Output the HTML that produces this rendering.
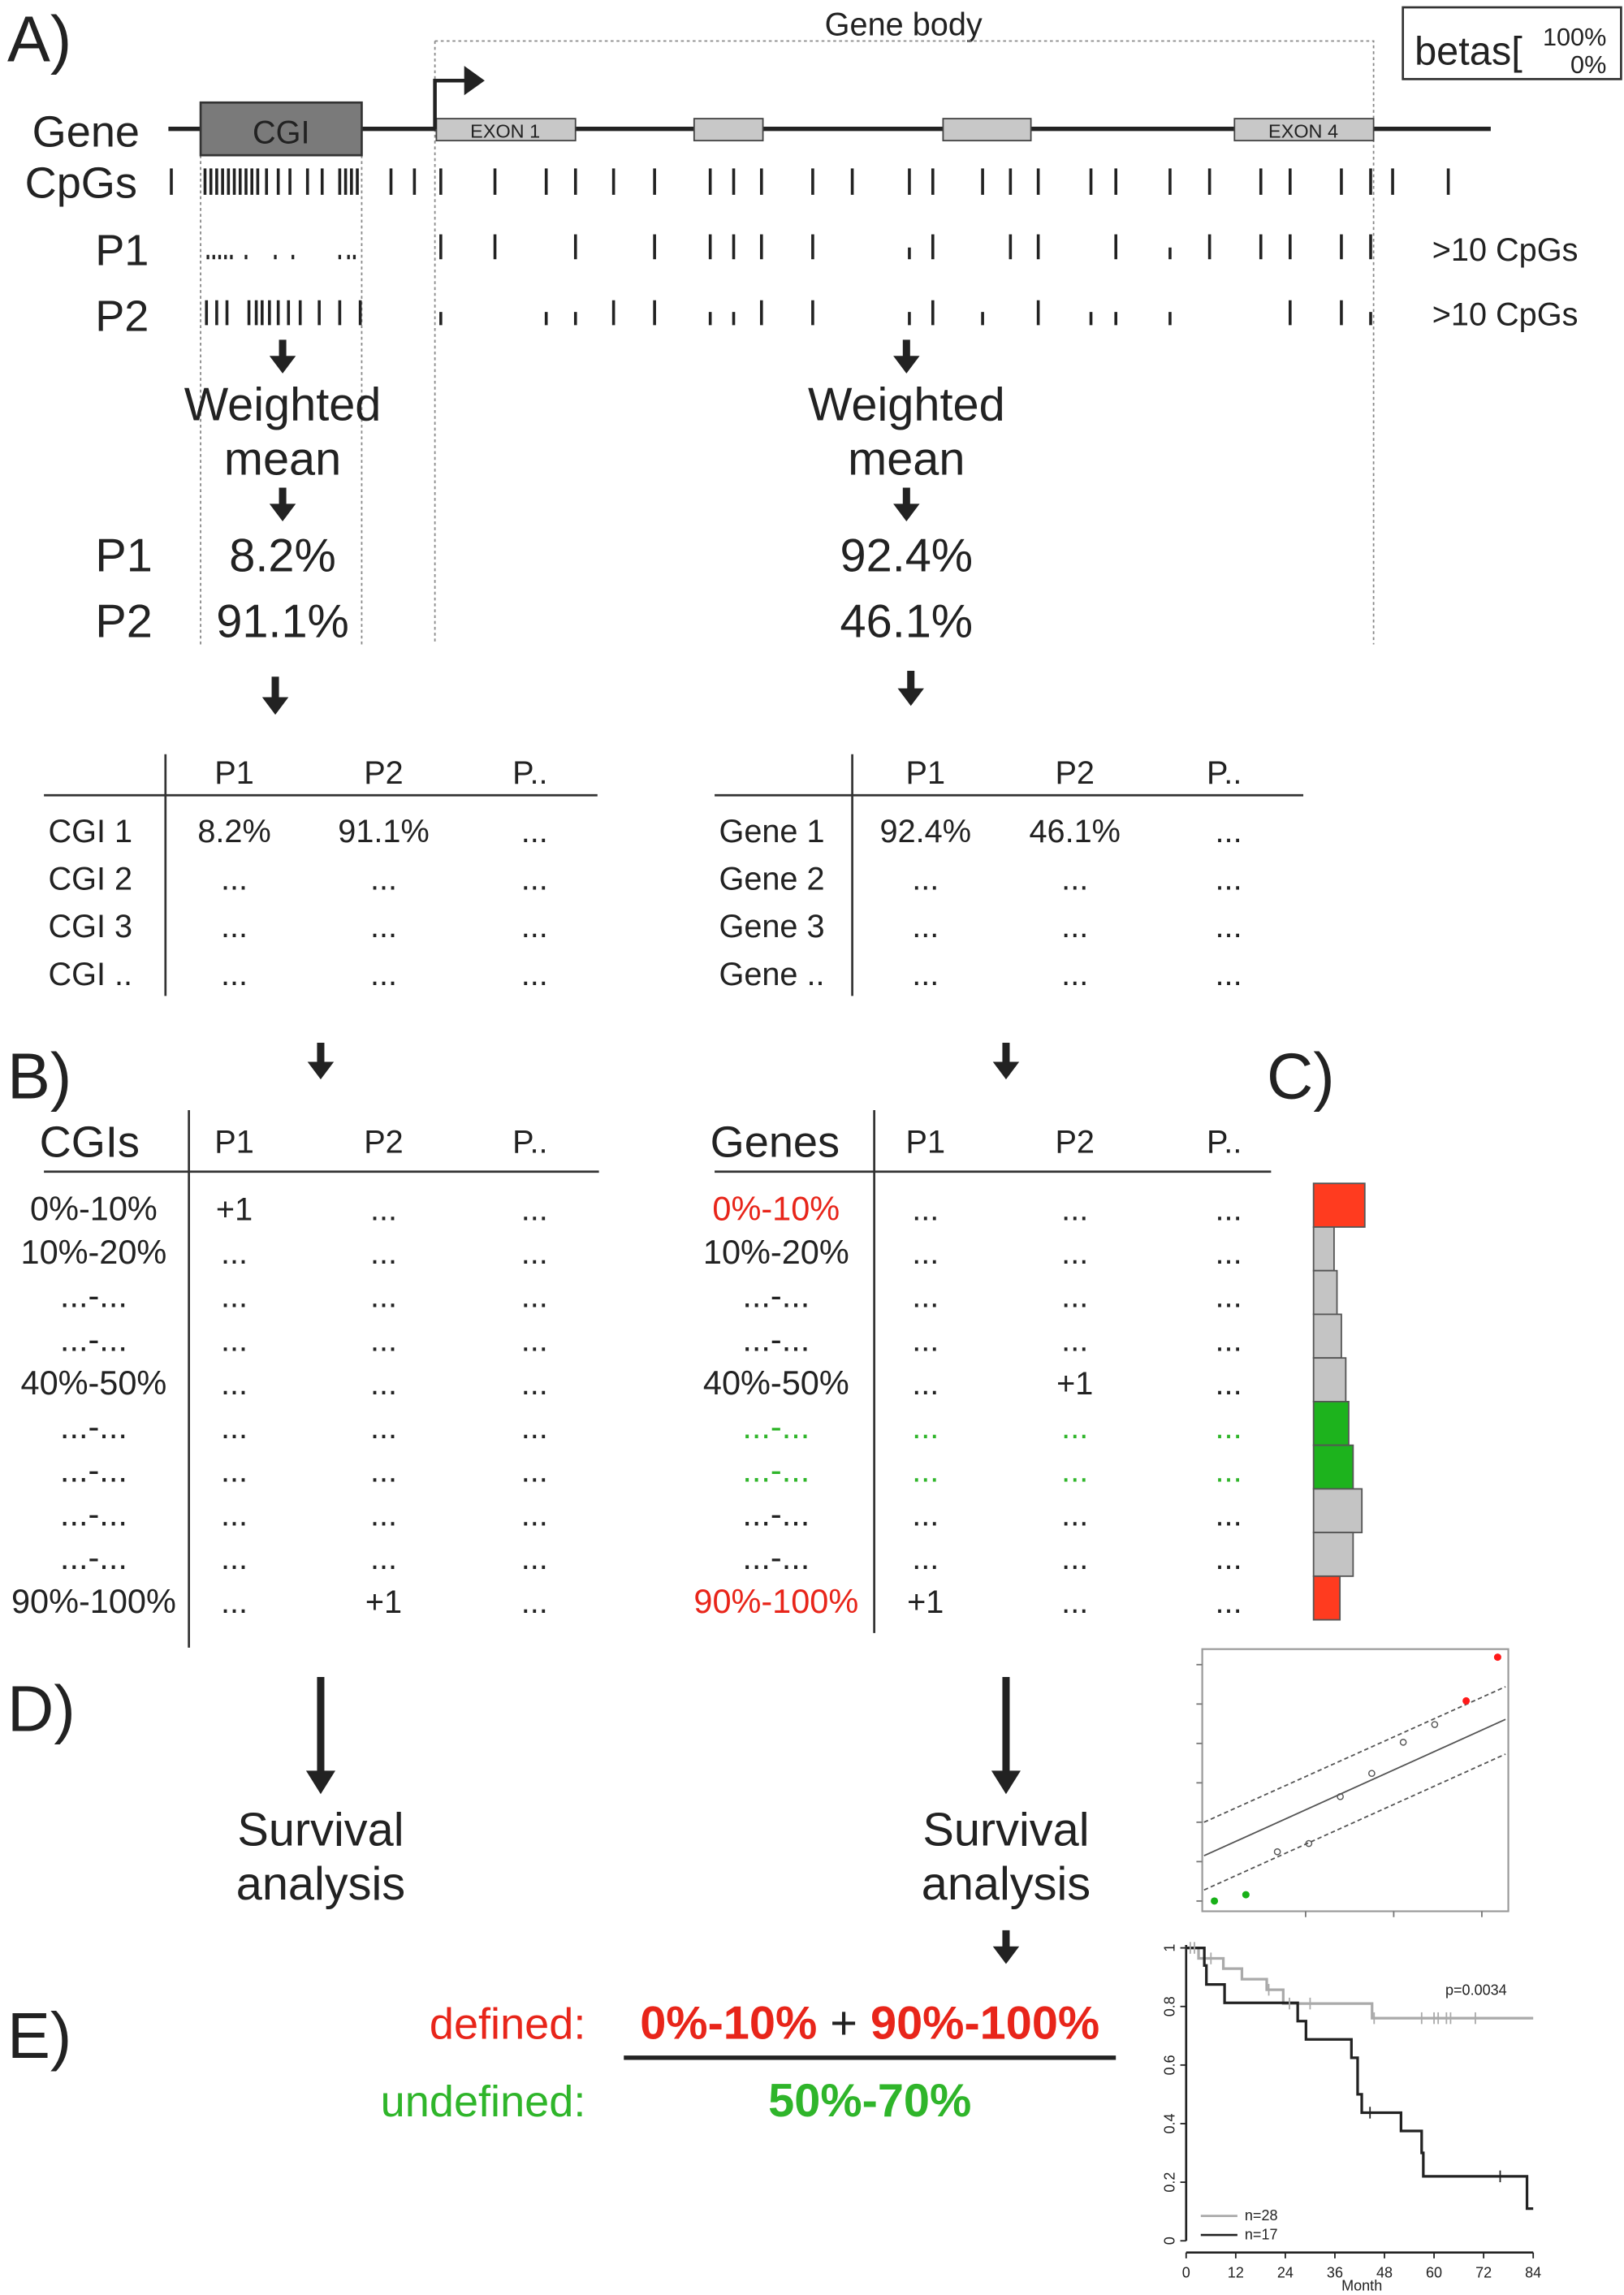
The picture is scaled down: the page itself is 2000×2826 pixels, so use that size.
<!DOCTYPE html>
<html><head><meta charset="utf-8"><style>
html,body{margin:0;padding:0;background:#fff}
svg{display:block}
text{font-family:"Liberation Sans",sans-serif;fill:#222}
</style></head><body>
<svg id="fig" width="2000" height="2826" viewBox="0 0 1109 1567" xmlns="http://www.w3.org/2000/svg">
<g id="static">
<text x="5" y="42" font-size="44">A)</text>
<text x="617" y="24" font-size="22" text-anchor="middle">Gene body</text>
<path d="M297 28 H938 V440 M297 28 V440 M137 106 V440 M247 106 V440" stroke="#888" stroke-width="1" stroke-dasharray="2,2" fill="none"/>
<rect x="958" y="5" width="149" height="49" fill="#fff" stroke="#333" stroke-width="1.5"/>
<text x="966" y="44" font-size="27">betas[</text>
<text x="1097" y="31" font-size="17" text-anchor="end">100%</text>
<text x="1097" y="50" font-size="17" text-anchor="end">0%</text>
<text x="22" y="100" font-size="30">Gene</text>
<text x="17" y="135" font-size="30">CpGs</text>
<text x="65" y="181" font-size="30">P1</text>
<text x="65" y="226" font-size="30">P2</text>
<line x1="115" y1="88" x2="1018" y2="88" stroke="#222" stroke-width="3"/>
<rect x="137" y="70" width="110" height="36" fill="#7a7a7a" stroke="#333" stroke-width="1.5"/>
<text x="192" y="98" font-size="22" text-anchor="middle">CGI</text>
<rect x="298" y="81" width="95" height="15" fill="#c8c8c8" stroke="#444"/>
<text x="345" y="94" font-size="13" text-anchor="middle">EXON 1</text>
<rect x="474" y="81" width="47" height="15" fill="#c8c8c8" stroke="#444"/>
<rect x="644" y="81" width="60" height="15" fill="#c8c8c8" stroke="#444"/>
<rect x="843" y="81" width="95" height="15" fill="#c8c8c8" stroke="#444"/>
<text x="890" y="94" font-size="13" text-anchor="middle">EXON 4</text>
<path d="M297 88 V55 H318" stroke="#222" stroke-width="2.5" fill="none"/>
<path d="M317 45 L331 55 L317 65 Z" fill="#222"/>
<text x="978" y="178" font-size="22">&gt;10 CpGs</text>
<text x="978" y="222" font-size="22">&gt;10 CpGs</text>
<g font-size="32" text-anchor="middle">
<text x="193" y="287">Weighted</text><text x="193" y="324">mean</text>
<text x="619" y="287">Weighted</text><text x="619" y="324">mean</text>
<text x="193" y="390">8.2%</text>
<text x="193" y="435">91.1%</text>
<text x="619" y="390">92.4%</text>
<text x="619" y="435">46.1%</text>
<text x="219" y="1260">Survival</text><text x="219" y="1297">analysis</text>
<text x="687" y="1260">Survival</text><text x="687" y="1297">analysis</text>
</g>
<text x="65" y="390" font-size="32">P1</text>
<text x="65" y="435" font-size="32">P2</text>
<text x="5" y="750" font-size="44">B)</text>
<text x="865" y="750" font-size="44">C)</text>
<text x="5" y="1182" font-size="44">D)</text>
<text x="5" y="1405" font-size="44">E)</text>
<text x="400" y="1392" font-size="30" text-anchor="end" fill="#e8251a" style="fill:#e8251a">defined:</text>
<text x="594" y="1392" font-size="32" font-weight="bold" text-anchor="middle"><tspan style="fill:#e8251a">0%-10%</tspan><tspan font-weight="normal"> + </tspan><tspan style="fill:#e8251a">90%-100%</tspan></text>
<line x1="426" y1="1405" x2="762" y2="1405" stroke="#222" stroke-width="3"/>
<text x="400" y="1445" font-size="30" text-anchor="end" style="fill:#2fb52a">undefined:</text>
<text x="594" y="1445" font-size="32" font-weight="bold" text-anchor="middle" style="fill:#2fb52a">50%-70%</text>
</g>
<g id="dyn"></g>
</svg>
<script>
// CpG positions (display units along gene)
const cpgPos=[117,140,144,148,152,156,160,164,168,172,176,182,190,198,210,220,232,236,240,244,267,283,301,338,373,393,419,447,485,501,520,555,582,621,637,671,690,709,745,762,799,826,861,881,916,936,951,989];
const p1Full=[301,338,393,447,485,501,520,555,637,690,709,762,826,861,881,916,936];
const p1Short=[621,799];
const p1Dots=[142,146,150,154,158,168,188,200,232,238,242];
const p2Full=[141,148,155,170,175,179,184,190,197,205,218,232,246,419,447,520,555,637,709,881,916];
const p2Short=[301,373,393,485,501,621,671,745,762,799,936];
// histogram (panel C) bar lengths
const histVals=[35,14,16,19,22,24,27,33,27,18];
const histCols=['red','gray','gray','gray','gray','green','green','gray','gray','red'];
// scatter
const scX=[1,2,3,4,5,6,7,8,9,10];
const scY=[0.13,0.29,1.38,1.59,2.78,3.37,4.16,4.61,5.21,6.32];
const scCol=['green','green','open','open','open','open','open','open','red','red'];
const fitX=[0.67,10.25];
const fitMid=[1.28,4.74];
const fitUp=[2.13,5.57];
const fitLo=[0.41,3.86];
// Kaplan-Meier
const kmBlackT=[0,4.4,4.9,9.3,27,29,40,41.5,42.5,52,57,57.4,82.5,84];
const kmBlackS=[1,0.94,0.875,0.8125,0.75,0.6875,0.625,0.5,0.4375,0.375,0.3,0.22,0.11,0.11];
const kmBlackCens=[44.5,76];
const kmGrayT=[0,3,9,13.5,19.5,23.5,45,84];
const kmGrayS=[1,0.964,0.929,0.893,0.857,0.81,0.76,0.76];
const kmGrayCens=[1,2,6,20,25,30,45.5,57,60,61,63,64,70];
const kmTicks=[0,12,24,36,48,60,72,84];
const kmYTicks=[0,0.2,0.4,0.6,0.8,1];
const rowLabelsL=['0%-10%','10%-20%','...-...','...-...','40%-50%','...-...','...-...','...-...','...-...','90%-100%'];

const NS='http://www.w3.org/2000/svg';
const dyn=document.getElementById('dyn');
function mk(tag,attrs,parent){const e=document.createElementNS(NS,tag);for(const k in attrs)e.setAttribute(k,attrs[k]);(parent||dyn).appendChild(e);return e;}
function txt(x,y,s,size,fill,anchor){const e=mk('text',{x:x,y:y,'font-size':size,'text-anchor':anchor||'middle'});e.style.fill=fill||'#222';e.textContent=s;return e;}
function ticks(arr,y1,y2,w){arr.forEach(x=>{const l=mk('line',{x1:x,x2:x,y1:y1,y2:y2,stroke:'#222','stroke-width':w||2});

});}
ticks(cpgPos,115,133);ticks(p1Full,160,177);ticks(p1Short,169,177);ticks(p1Dots,174,177,1.8);
ticks(p2Full,205,222);ticks(p2Short,213,222);

function arrow(x,y1,y2,big){const hw=big?10:9,hl=big?16:12;
const a=mk('path',{d:`M${x-(big?2.5:2.5)} ${y1} H${x+2.5} V${y2-hl} H${x+hw} L${x} ${y2} L${x-hw} ${y2-hl} H${x-2.5} Z`,fill:'#222'});

}
[[193,232,255],[619,232,255],[193,333,356],[619,333,356],[188,462,488],[622,458,482],[219,712,737],[687,712,737],[687,1318,1341]].forEach(a=>arrow(a[0],a[1],a[2]));
arrow(219,1145,1225,true);arrow(687,1145,1225,true);

// tables A
function tableA(vx,hx1,hx2,cols,labels,first,lx){
 const v=mk('line',{x1:vx,x2:vx,y1:515,y2:680,stroke:'#333','stroke-width':1.5});
 
 
 mk('line',{x1:hx1,x2:hx2,y1:543,y2:543,stroke:'#333','stroke-width':1.5});
 ['P1','P2','P..'].forEach((h,i)=>txt(cols[i],535,h,22));
 labels.forEach((l,r)=>{const y=575+r*32.5;txt(lx,y,l,22,'#222','start');
  const vals=r==0?first:['...','...','...'];vals.forEach((s,i)=>txt(cols[i]+(i==2?3:0),y,s,22));});
}
tableA(113,30,408,[160,262,362],['CGI 1','CGI 2','CGI 3','CGI ..'],['8.2%','91.1%','...'],33);
tableA(582,488,890,[632,734,836],['Gene 1','Gene 2','Gene 3','Gene ..'],['92.4%','46.1%','...'],491);

// tables B
const rowY=i=>833+i*29.8;
function tableB(vx,vy2,hx1,hx2,cols,title,tx,lx,colorFn,plus){
 const v=mk('line',{x1:vx,x2:vx,y1:758,y2:vy2,stroke:'#333','stroke-width':1.5});
 
 
 mk('line',{x1:hx1,x2:hx2,y1:800,y2:800,stroke:'#333','stroke-width':1.5});
 txt(tx,790,title,30,'#222','start');
 ['P1','P2','P..'].forEach((h,i)=>txt(cols[i],787,h,22));
 rowLabelsL.forEach((l,r)=>{const y=rowY(r);const c=colorFn(r);
  const t=txt(lx,y,l,23,c.label);
  
  
  cols.forEach((cx,i)=>{const p=plus.find(q=>q[0]==r&&q[1]==i);txt(cx+(i==2?3:0),y,p?'+1':'...',22,c.cell);});});
}
tableB(129,1125,30,409,[160,262,362],'CGIs',27,64,()=>({label:'#222',cell:'#222'}),[[0,0],[9,1]]);
tableB(597,1115,488,868,[632,734,836],'Genes',485,530,r=>r==0||r==9?{label:'#e8251a',cell:'#222'}:(r==5||r==6?{label:'#2fb52a',cell:'#2fb52a'}:{label:'#222',cell:'#222'}),[[4,1],[9,0]]);

// histogram C
const colMap={red:'#ff3b1f',gray:'#c4c4c4',green:'#1db31d'};
histVals.forEach((v,i)=>{const r=mk('rect',{x:897,y:808+i*29.8,width:v,height:29.8,fill:colMap[histCols[i]],stroke:'#555','stroke-width':1});

});

// scatter
const sc={x0:821,x1:1030,y0:1126,y1:1305};
const sxs=x=>790.5+ (x-1)*21.5+31.4-0.9+0.0; // axis function
function SX(x){return 829.3+(x-1)*21.49;}
function SY(y){return 1301.5-y*26.9;}
const frame=mk('rect',{x:sc.x0,y:sc.y0,width:sc.x1-sc.x0,height:sc.y1-sc.y0,fill:'#fff',stroke:'#999','stroke-width':1.2});


for(let k=0;k<=6;k++){mk('line',{x1:sc.x0-4,x2:sc.x0,y1:SY(k)-3.5,y2:SY(k)-3.5,stroke:'#777'});}
[3.2,6,8.8].forEach(v=>mk('line',{x1:SX(v)+15,x2:SX(v)+15,y1:sc.y1,y2:sc.y1+4,stroke:'#777'}));
[[fitMid,''],[fitUp,'3,2'],[fitLo,'3,2']].forEach(([f,d])=>{const l=mk('line',{x1:SX(fitX[0]),y1:SY(f[0]),x2:SX(fitX[1]),y2:SY(f[1]),stroke:'#555','stroke-width':1,'stroke-dasharray':d});

});
scX.forEach((x,i)=>{const c=scCol[i];const p=mk('circle',{cx:SX(x),cy:SY(scY[i]),r:c=='open'?2:2.5,fill:c=='open'?'none':(c=='red'?'#ff1a1a':'#18b018'),stroke:c=='open'?'#555':'none','stroke-width':0.8});

});

// KM
function KX(t){return 810+t*(237/84);}
function KY(s){return 1530-s*200;}
const ax=mk('path',{d:`M${KX(0)} ${KY(1)-2} V${KY(0)} M${KX(0)} ${KY(0)+8} H${KX(84)}`,stroke:'#222','stroke-width':1.5,fill:'none'});


kmTicks.forEach(t=>{mk('line',{x1:KX(t),x2:KX(t),y1:KY(0)+8,y2:KY(0)+12,stroke:'#222'});txt(KX(t),KY(0)+25,String(t),10);});
kmYTicks.forEach(s=>{mk('line',{x1:KX(0)-4,x2:KX(0),y1:KY(s),y2:KY(s),stroke:'#222'});
 const t=txt(0,0,String(s),10);t.setAttribute('transform',`translate(${KX(0)-8},${KY(s)}) rotate(-90)`);});
txt(930,1564,'Month',10);
function step(T,S){let d=`M${KX(T[0])} ${KY(S[0])}`;for(let i=1;i<T.length;i++){d+=` H${KX(T[i])} V${KY(S[i])}`;}return d;}
function survAt(T,S,t){let s=S[0];for(let i=0;i<T.length;i++){if(T[i]<=t)s=S[i];}return s;}
const g=mk('path',{d:step(kmGrayT,kmGrayS),stroke:'#aaa','stroke-width':1.8,fill:'none'});


const b=mk('path',{d:step(kmBlackT,kmBlackS),stroke:'#222','stroke-width':1.8,fill:'none'});


kmGrayCens.forEach(t=>mk('line',{x1:KX(t),x2:KX(t),y1:KY(survAt(kmGrayT,kmGrayS,t))-4,y2:KY(survAt(kmGrayT,kmGrayS,t))+4,stroke:'#aaa','stroke-width':1}));
kmBlackCens.forEach(t=>mk('line',{x1:KX(t),x2:KX(t),y1:KY(survAt(kmBlackT,kmBlackS,t))-4,y2:KY(survAt(kmBlackT,kmBlackS,t))+4,stroke:'#222','stroke-width':1}));
txt(1008,1362,'p=0.0034',10);
mk('line',{x1:820,x2:845,y1:1513,y2:1513,stroke:'#aaa','stroke-width':1.5});
mk('line',{x1:820,x2:845,y1:1526,y2:1526,stroke:'#222','stroke-width':1.5});
txt(850,1516,'n=28',10,'#222','start');txt(850,1529,'n=17',10,'#222','start');
</script>
</body></html>
